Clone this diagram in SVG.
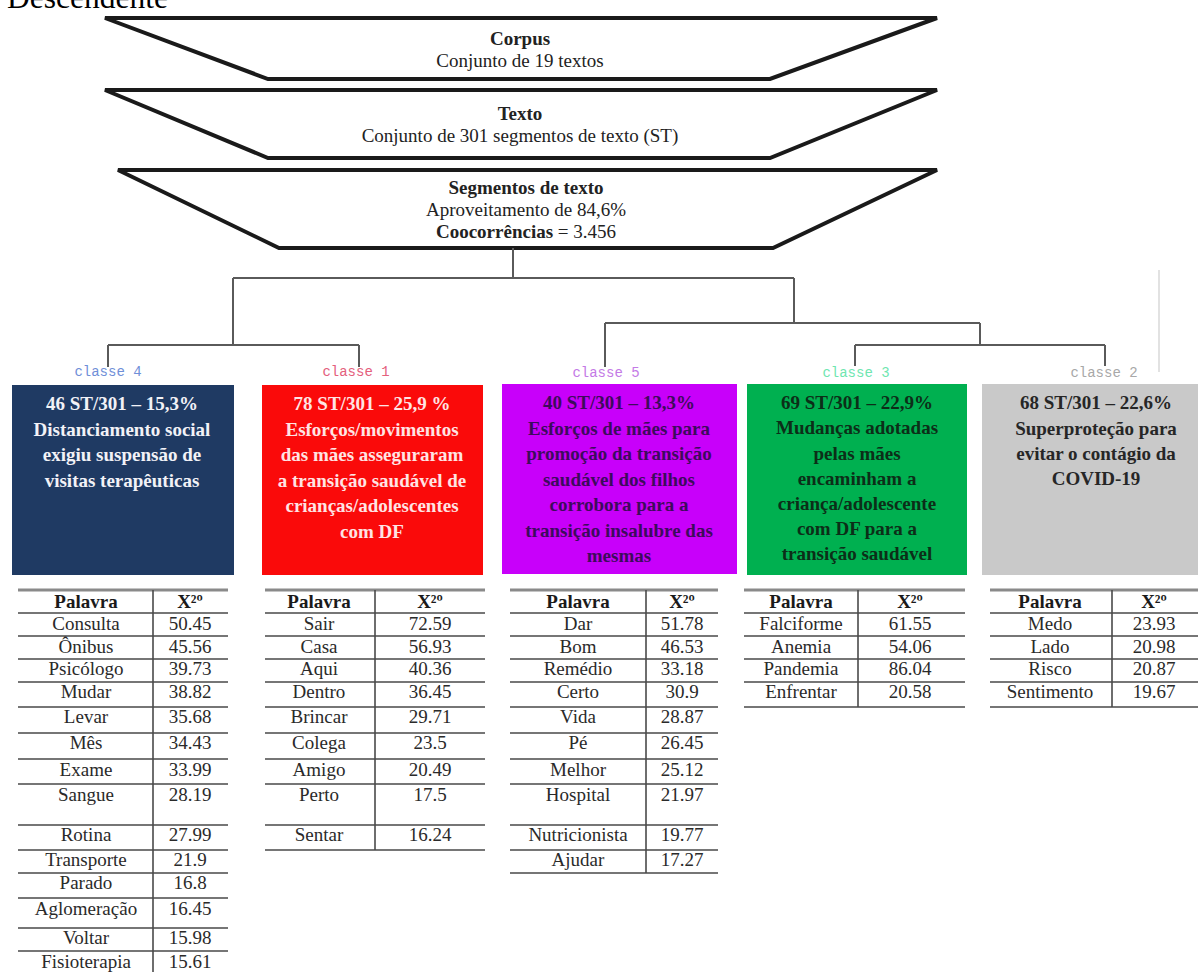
<svg xmlns="http://www.w3.org/2000/svg" width="1198" height="972" viewBox="0 0 1198 972">
<style>
text{font-family:"Liberation Serif","Times New Roman",serif}
.tt{font-size:19px;text-anchor:middle;fill:#222}
.b{font-weight:bold}
.trap{fill:#fff;stroke:#1a1a1a;stroke-width:4;stroke-linejoin:miter}
.tree{fill:none;stroke:#5a5a5a;stroke-width:2}
.cl{font-family:"Liberation Mono","DejaVu Sans Mono",monospace;font-size:14px;text-anchor:middle}
.bx{font-size:19px;font-weight:bold;text-anchor:middle}
.hl{stroke:#4a4a4a;stroke-width:1.6}
.top{stroke:#8a8a8a;stroke-width:3}
.vl{stroke:#4a4a4a;stroke-width:1.6}
.td{font-size:19px;text-anchor:middle;fill:#2a2a2a}
.th{font-size:19px;font-weight:bold;text-anchor:middle;fill:#1a1a1a}
</style>
<rect width="1198" height="972" fill="#fff"/>
<text x="7" y="7.5" font-size="31.5" fill="#000">Descendente</text>

<g id="corpus">
<polygon class="trap" points="105,18 937,18 770,79 268,79"/>
<text class="tt b" x="520" y="45">Corpus</text>
<text class="tt" x="520" y="67">Conjunto de 19 textos</text>
</g>
<g id="texto">
<polygon class="trap" points="105,90 937,90 770,158 268,158"/>
<text class="tt b" x="520" y="120">Texto</text>
<text class="tt" x="520" y="142">Conjunto de 301 segmentos de texto (ST)</text>
</g>
<g id="segmentos">
<polygon class="trap" points="118,170 937,170 773,248 279,248"/>
<text class="tt b" x="526" y="194">Segmentos de texto</text>
<text class="tt" x="526" y="216">Aproveitamento de 84,6%</text>
<text class="tt" x="526" y="238"><tspan class="b">Coocorrências</tspan> = 3.456</text>
</g>

<g id="connectors">
<path class="tree" d="M513,248 V278 M233,278 H794 M233,278 V345 M108,345 H359 M108,345 V367 M359,345 V367 M794,278 V323 M605,323 H980 M605,323 V367 M980,323 V345 M855,345 H1105 M855,345 V366 M1105,345 V366"/>
<line x1="1159" y1="270" x2="1159" y2="372" stroke="#d8d8d8" stroke-width="1.5"/>
</g>

<g id="classe4">
<text class="cl" x="108" y="376" fill="#6f8fd8">classe 4</text>
<rect x="12" y="385" width="222" height="190" fill="#1f3a63"/>
<text class="bx" fill="#f2f2f7"><tspan x="122" y="410">46 ST/301 – 15,3%</tspan><tspan x="122" y="435.5">Distanciamento social</tspan><tspan x="122" y="461">exigiu suspensão de</tspan><tspan x="122" y="486.5">visitas terapêuticas</tspan></text>
</g>
<g id="classe1">
<text class="cl" x="356" y="376" fill="#e4607c">classe 1</text>
<rect x="262" y="385" width="221" height="190" fill="#fa0a0a"/>
<text class="bx" fill="#ffe4e4"><tspan x="372" y="410">78 ST/301 – 25,9 %</tspan><tspan x="372" y="435.5">Esforços/movimentos</tspan><tspan x="372" y="461">das mães asseguraram</tspan><tspan x="372" y="486.5">a transição saudável de</tspan><tspan x="372" y="512">crianças/adolescentes</tspan><tspan x="372" y="537.5">com DF</tspan></text>
</g>
<g id="classe5">
<text class="cl" x="606" y="377" fill="#c47ae6">classe 5</text>
<rect x="502" y="384" width="235" height="190" fill="#c800fa"/>
<text class="bx" fill="#3d0b5c"><tspan x="619" y="409">40 ST/301 – 13,3%</tspan><tspan x="619" y="434.5">Esforços de mães para</tspan><tspan x="619" y="460">promoção da transição</tspan><tspan x="619" y="485.5">saudável dos filhos</tspan><tspan x="619" y="511">corrobora para a</tspan><tspan x="619" y="536.5">transição insalubre das</tspan><tspan x="619" y="562">mesmas</tspan></text>
</g>
<g id="classe3">
<text class="cl" x="856" y="377" fill="#6fe6b0">classe 3</text>
<rect x="747" y="384" width="220" height="191" fill="#00b050"/>
<text class="bx" fill="#0c2e18"><tspan x="857" y="409">69 ST/301 – 22,9%</tspan><tspan x="857" y="434">Mudanças adotadas</tspan><tspan x="857" y="459.5">pelas mães</tspan><tspan x="857" y="485">encaminham a</tspan><tspan x="857" y="510">criança/adolescente</tspan><tspan x="857" y="535">com DF para a</tspan><tspan x="857" y="560">transição saudável</tspan></text>
</g>
<g id="classe2">
<text class="cl" x="1104" y="377" fill="#a8a8a8">classe 2</text>
<rect x="982" y="384" width="216" height="191" fill="#c9c9c9"/>
<text class="bx" fill="#262626"><tspan x="1096" y="409">68 ST/301 – 22,6%</tspan><tspan x="1096" y="435">Superproteção para</tspan><tspan x="1096" y="460">evitar o contágio da</tspan><tspan x="1096" y="485">COVID-19</tspan></text>
</g>

<g id="tabela4">
<line class="top" x1="18" y1="590" x2="228" y2="590"/>
<path class="hl" d="M18,613H228M18,636H228M18,659H228M18,682H228M18,707H228M18,733H228M18,759H228M18,784H228M18,825H228M18,850H228M18,873H228M18,898H228M18,928H228M18,951H228"/>
<line class="vl" x1="153" y1="590" x2="153" y2="972"/>
<text class="th" x="86" y="608">Palavra</text><text class="th" x="190" y="608">X²º</text>
<g class="td">
<text class="td" x="86" y="630">Consulta</text><text class="td" x="190" y="630">50.45</text>
<text class="td" x="86" y="653">Ônibus</text><text class="td" x="190" y="653">45.56</text>
<text class="td" x="86" y="675">Psicólogo</text><text class="td" x="190" y="675">39.73</text>
<text class="td" x="86" y="698">Mudar</text><text class="td" x="190" y="698">38.82</text>
<text class="td" x="86" y="723">Levar</text><text class="td" x="190" y="723">35.68</text>
<text class="td" x="86" y="749">Mês</text><text class="td" x="190" y="749">34.43</text>
<text class="td" x="86" y="776">Exame</text><text class="td" x="190" y="776">33.99</text>
<text class="td" x="86" y="801">Sangue</text><text class="td" x="190" y="801">28.19</text>
<text class="td" x="86" y="841">Rotina</text><text class="td" x="190" y="841">27.99</text>
<text class="td" x="86" y="866">Transporte</text><text class="td" x="190" y="866">21.9</text>
<text class="td" x="86" y="889">Parado</text><text class="td" x="190" y="889">16.8</text>
<text class="td" x="86" y="915">Aglomeração</text><text class="td" x="190" y="915">16.45</text>
<text class="td" x="86" y="944">Voltar</text><text class="td" x="190" y="944">15.98</text>
<text class="td" x="86" y="968">Fisioterapia</text><text class="td" x="190" y="968">15.61</text>
</g>
</g>

<g id="tabela1">
<line class="top" x1="265" y1="590" x2="485" y2="590"/>
<path class="hl" d="M265,613H485M265,636H485M265,659H485M265,682H485M265,707H485M265,733H485M265,759H485M265,784H485M265,825H485M265,850H485"/>
<line class="vl" x1="375" y1="590" x2="375" y2="850"/>
<text class="th" x="319" y="608">Palavra</text><text class="th" x="430" y="608">X²º</text>
<text class="td" x="319" y="630">Sair</text><text class="td" x="430" y="630">72.59</text>
<text class="td" x="319" y="653">Casa</text><text class="td" x="430" y="653">56.93</text>
<text class="td" x="319" y="675">Aqui</text><text class="td" x="430" y="675">40.36</text>
<text class="td" x="319" y="698">Dentro</text><text class="td" x="430" y="698">36.45</text>
<text class="td" x="319" y="723">Brincar</text><text class="td" x="430" y="723">29.71</text>
<text class="td" x="319" y="749">Colega</text><text class="td" x="430" y="749">23.5</text>
<text class="td" x="319" y="776">Amigo</text><text class="td" x="430" y="776">20.49</text>
<text class="td" x="319" y="801">Perto</text><text class="td" x="430" y="801">17.5</text>
<text class="td" x="319" y="841">Sentar</text><text class="td" x="430" y="841">16.24</text>
</g>

<g id="tabela5">
<line class="top" x1="510" y1="590" x2="718" y2="590"/>
<path class="hl" d="M510,613H718M510,636H718M510,659H718M510,682H718M510,707H718M510,733H718M510,759H718M510,784H718M510,825H718M510,850H718M510,873H718"/>
<line class="vl" x1="646" y1="590" x2="646" y2="873"/>
<text class="th" x="578" y="608">Palavra</text><text class="th" x="682" y="608">X²º</text>
<text class="td" x="578" y="630">Dar</text><text class="td" x="682" y="630">51.78</text>
<text class="td" x="578" y="653">Bom</text><text class="td" x="682" y="653">46.53</text>
<text class="td" x="578" y="675">Remédio</text><text class="td" x="682" y="675">33.18</text>
<text class="td" x="578" y="698">Certo</text><text class="td" x="682" y="698">30.9</text>
<text class="td" x="578" y="723">Vida</text><text class="td" x="682" y="723">28.87</text>
<text class="td" x="578" y="749">Pé</text><text class="td" x="682" y="749">26.45</text>
<text class="td" x="578" y="776">Melhor</text><text class="td" x="682" y="776">25.12</text>
<text class="td" x="578" y="801">Hospital</text><text class="td" x="682" y="801">21.97</text>
<text class="td" x="578" y="841">Nutricionista</text><text class="td" x="682" y="841">19.77</text>
<text class="td" x="578" y="866">Ajudar</text><text class="td" x="682" y="866">17.27</text>
</g>

<g id="tabela3">
<line class="top" x1="744" y1="590" x2="965" y2="590"/>
<path class="hl" d="M744,613H965M744,636H965M744,659H965M744,682H965M744,707H965"/>
<line class="vl" x1="858" y1="590" x2="858" y2="707"/>
<text class="th" x="801" y="608">Palavra</text><text class="th" x="910" y="608">X²º</text>
<text class="td" x="801" y="630">Falciforme</text><text class="td" x="910" y="630">61.55</text>
<text class="td" x="801" y="653">Anemia</text><text class="td" x="910" y="653">54.06</text>
<text class="td" x="801" y="675">Pandemia</text><text class="td" x="910" y="675">86.04</text>
<text class="td" x="801" y="698">Enfrentar</text><text class="td" x="910" y="698">20.58</text>
</g>

<g id="tabela2">
<line class="top" x1="990" y1="590" x2="1198" y2="590"/>
<path class="hl" d="M990,613H1198M990,636H1198M990,659H1198M990,682H1198M990,707H1198"/>
<line class="vl" x1="1112" y1="590" x2="1112" y2="707"/>
<text class="th" x="1050" y="608">Palavra</text><text class="th" x="1154" y="608">X²º</text>
<text class="td" x="1050" y="630">Medo</text><text class="td" x="1154" y="630">23.93</text>
<text class="td" x="1050" y="653">Lado</text><text class="td" x="1154" y="653">20.98</text>
<text class="td" x="1050" y="675">Risco</text><text class="td" x="1154" y="675">20.87</text>
<text class="td" x="1050" y="698">Sentimento</text><text class="td" x="1154" y="698">19.67</text>
</g>
</svg>
